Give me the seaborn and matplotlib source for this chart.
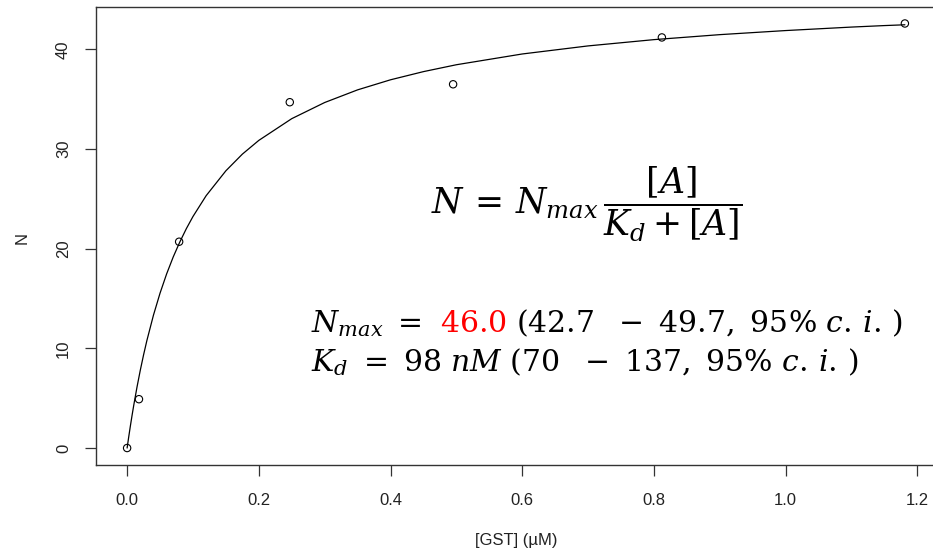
import matplotlib
matplotlib.use("Agg")
import matplotlib.pyplot as plt
import seaborn as sns
import pandas as pd

gst = [0.0, 0.018, 0.079, 0.247, 0.495, 0.812, 1.181]
n_obs = [0.0, 4.9, 20.7, 34.7, 36.5, 41.2, 42.6]

# fitted curve
fit_x = [0.0, 0.0025, 0.005, 0.0075, 0.01, 0.015, 0.02, 0.025, 0.03, 0.04, 0.05,
         0.06, 0.07, 0.08, 0.09, 0.10, 0.12, 0.15, 0.175, 0.2, 0.25, 0.3, 0.35,
         0.4, 0.45, 0.5, 0.6, 0.7, 0.8, 0.9, 1.0, 1.1, 1.15, 1.181]
fit_n = [0.0, 1.14, 2.23, 3.27, 4.26, 6.11, 7.80, 9.35, 10.78, 13.33, 15.54,
         17.47, 19.17, 20.67, 22.02, 23.23, 25.32, 27.82, 29.49, 30.87, 33.05, 34.67, 35.94,
         36.95, 37.77, 38.46, 39.54, 40.35, 40.98, 41.48, 41.89, 42.24, 42.39, 42.47]

xticks = [0.0, 0.2, 0.4, 0.6, 0.8, 1.0, 1.2]
yticks = [0, 10, 20, 30, 40]

pts = pd.DataFrame({"GST": gst, "N": n_obs})
fit = pd.DataFrame({"GST": fit_x, "N": fit_n})

sns.set_style("ticks")
plt.rcParams['font.family'] = ['Liberation Sans', 'DejaVu Sans']
plt.rcParams['mathtext.fontset'] = 'dejavuserif'

W, H = 933, 551
fig = plt.figure(figsize=(W / 100, H / 100), dpi=100)
ax = fig.add_axes([96 / W, 86 / H, 840 / W, 458.5 / H])

sns.lineplot(data=fit, x="GST", y="N", color="black", lw=0.9, ax=ax)
sns.scatterplot(data=pts, x="GST", y="N", marker="o", s=28, facecolor="none",
                edgecolor="black", linewidth=0.8, ax=ax, zorder=3)

xpad = 0.04 * (max(gst) - min(gst))
ypad = 0.04 * (max(n_obs) - min(n_obs))
ax.set_xlim(min(gst) - xpad, max(gst) + xpad)
ax.set_ylim(min(n_obs) - ypad, max(n_obs) + ypad)
ax.set_xticks(xticks)
ax.set_xticklabels([f"{v:.1f}" for v in xticks])
ax.set_yticks(yticks)
ax.set_yticklabels([str(v) for v in yticks], rotation=90, va="center")
ax.tick_params(axis="both", length=8, width=0.9, color="#333333", labelsize=12,
               labelcolor="#222222")
ax.tick_params(axis="x", pad=12)
ax.tick_params(axis="y", pad=10)
for sp in ax.spines.values():
    sp.set_visible(True)
    sp.set_color("#333333")
    sp.set_linewidth(1.0)

ax.set_xlabel("[GST] (µM)", fontsize=12, color="#222222", va="center")
ax.xaxis.set_label_coords(0.5, -(540 - 465) / 458.5)
ax.set_ylabel("N", fontsize=12, color="#222222", va="center")
ax.yaxis.set_label_coords(-(96 - 22) / 840, (465 - 238) / 458.5)

fig.canvas.draw()
renderer = fig.canvas.get_renderer()

fig.text(431 / W, 1 - 213 / H, r"$N\,=\,N_{max}\,\dfrac{[A]}{K_d+[A]}$",
         fontsize=25, color="black", ha="left", va="baseline")


def put_line(parts, x0, y0, size=21.5):
    x = x0
    for txt, col, gap in parts:
        t = fig.text(x / W, 1 - y0 / H, txt, color=col, fontsize=size,
                     ha="left", va="baseline")
        bb = t.get_window_extent(renderer)
        x = bb.x1 + gap


put_line([(r"$N_{max}\ =$", "black", 18), (r"$46.0$", "red", 10),
          (r"$(42.7\ \ -\ 49.7,\ 95\%\ c.\,i.\,)$", "black", 0)], 311, 332)
put_line([(r"$K_d\ =\ 98\ nM\ (70\ \ -\ 137,\ 95\%\ c.\,i.\,)$", "black", 0)], 311, 371)

fig.savefig("out.png", dpi=100)
